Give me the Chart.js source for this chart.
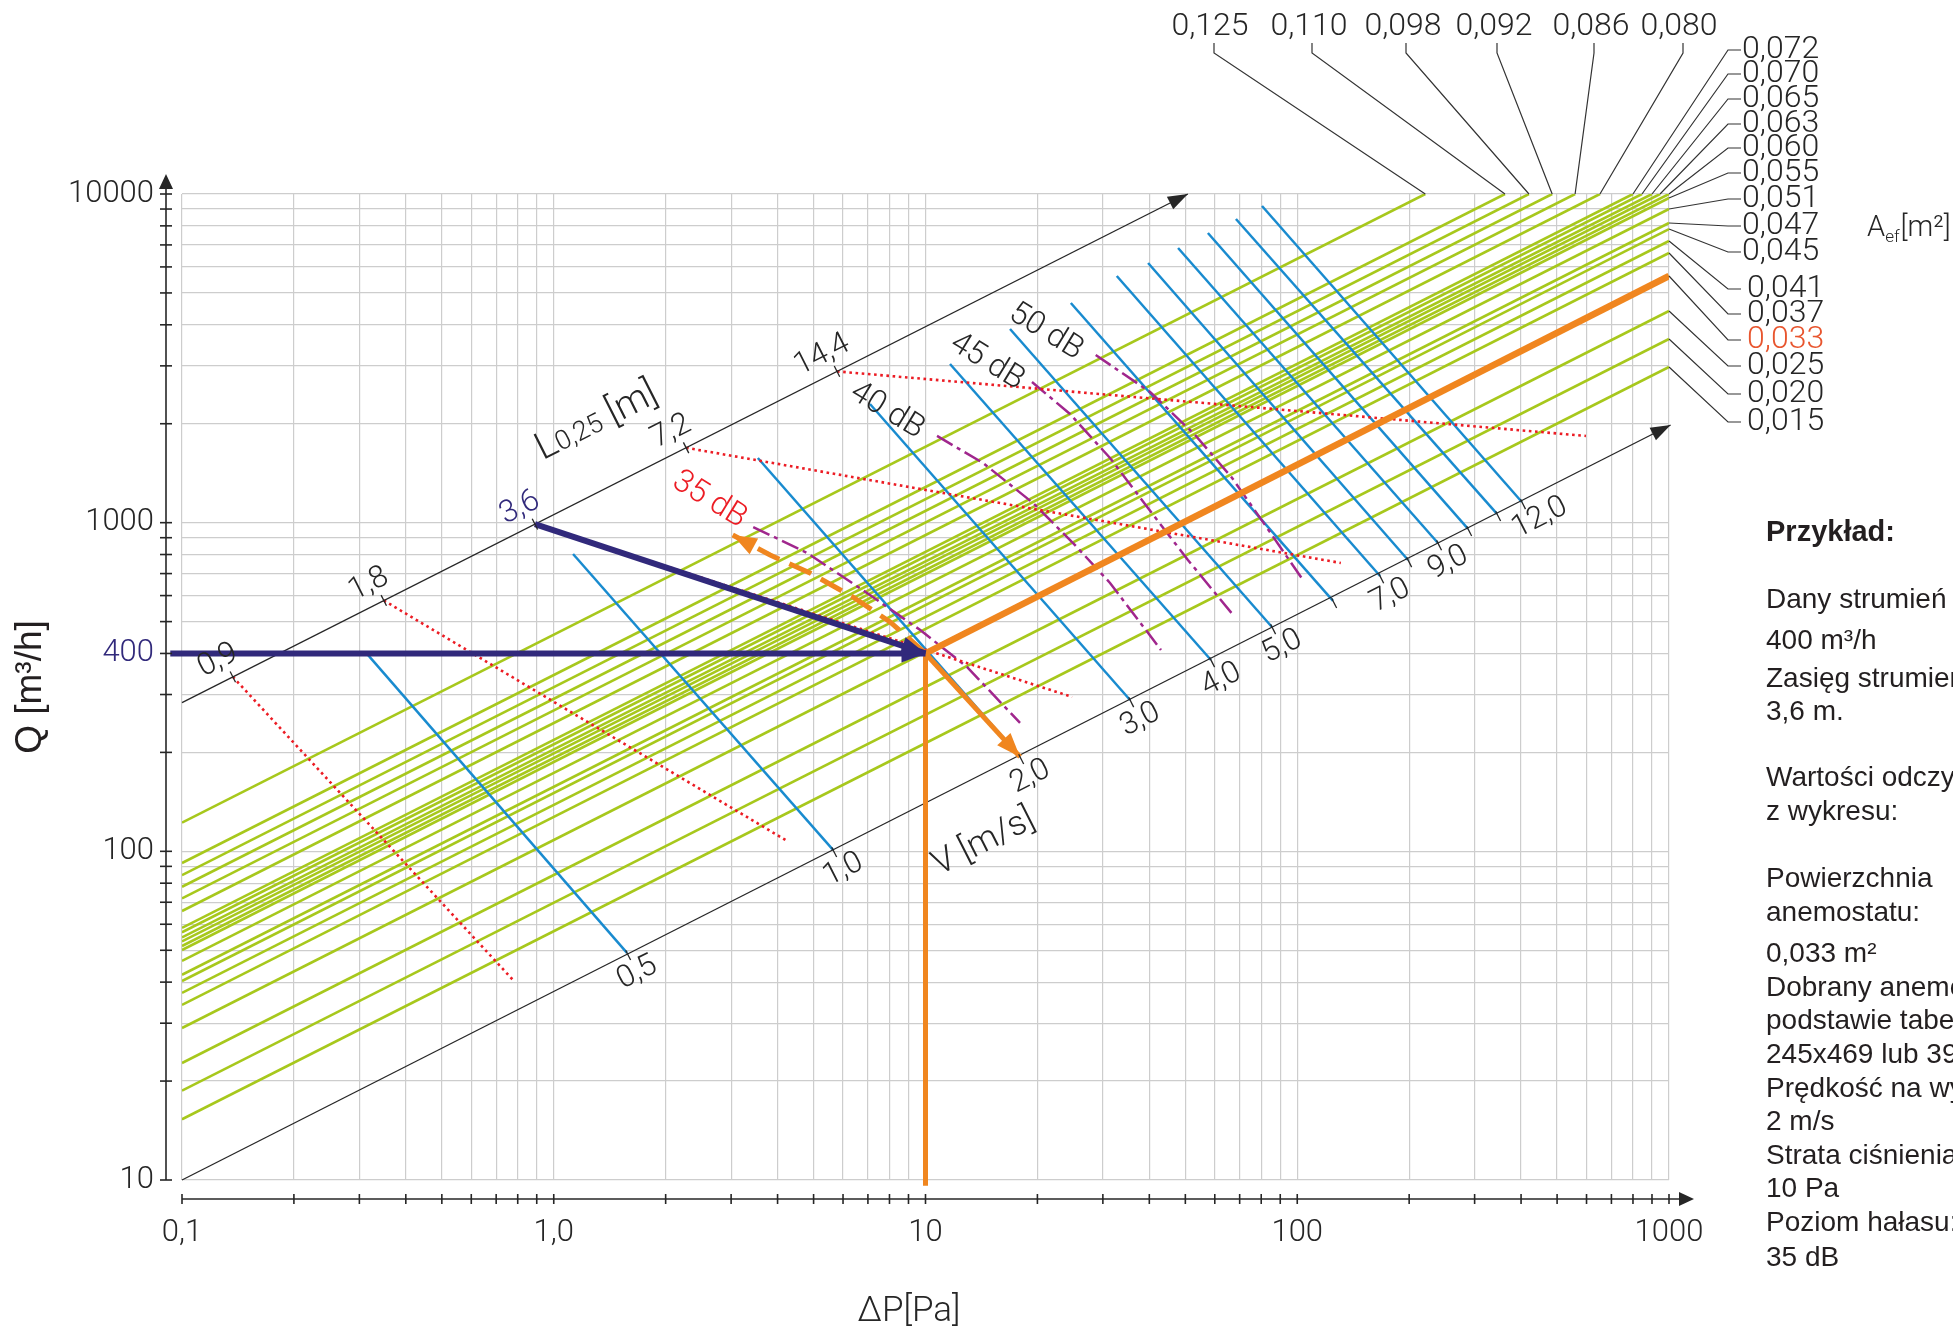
<!DOCTYPE html>
<html lang="pl">
<head>
<meta charset="utf-8">
<title>Nomogram doboru anemostatu</title>
<script src="https://cdn.jsdelivr.net/npm/chart.js@4.4.1/dist/chart.umd.min.js"></script>
<style>
  html, body { margin: 0; padding: 0; background: #ffffff; }
  #box { width: 1953px; height: 1331px; }
</style>
</head>
<body>
<div id="box"><canvas id="nomogram" width="1953" height="1331"></canvas></div>
<script>
// siatka logarytmiczna i opisy osi
const xGrid = [0.1,0.2,0.3,0.4,0.5,0.6,0.7,0.8,0.9,1,2,3,4,5,6,7,8,9,10,20,30,40,50,60,70,80,90,100,200,300,400,500,600,700,800,900,1000];
const yGrid = [10,20,30,40,50,60,70,80,90,100,200,300,400,500,600,700,800,900,1000,2000,3000,4000,5000,6000,7000,8000,9000,10000];
const xTickText = {0.1: '0,1', 1: '1,0', 10: '10', 100: '100', 1000: '1000'};
const yTickText = {10: '10', 100: '100', 400: '400', 1000: '1000', 10000: '10000'};

// linie A_ef: poczatek przy dP = 0,1 Pa, koniec na krawedzi wykresu
const aefNames = ['0,125','0,110','0,098','0,092','0,086','0,080','0,072','0,070','0,065','0,063','0,060','0,055','0,051','0,047','0,045','0,041','0,037','0,033','0,025','0,020','0,015'];
const aefQStart = [122.3, 92.1, 84.6, 78.0, 71.9, 65.8, 58.5, 56.7, 54.7, 53.2, 51.5, 50.1, 46.4, 42.1, 40.3, 37.1, 34.1, 29.0, 22.7, 18.7, 15.3];
const aefPEnd = [221, 362, 420, 485, 559, 652, 800, 846, 900, 946, 1000, 1000, 1000, 1000, 1000, 1000, 1000, 1000, 1000, 1000, 1000];
const aefQEnd = [10000, 10000, 10000, 10000, 10000, 10000, 10000, 10000, 10000, 10000, 10000, 9723, 9001, 8162, 7823, 7194, 6614, 5630, 4406, 3621, 2977];

// predkosc V [m/s]: linie od gory do osi V
const vNames = ['0,5','1,0','2,0','3,0','4,0','5,0','','7,0','','9,0','','','12,0'];
const vTopP = [0.315, 1.127, 3.54, 7.09, 11.64, 16.88, 24.6, 32.7, 39.7, 47.8, 57.5, 68.4, 80.4];
const vTopQ = [398, 803, 1573, 2297, 3039, 3884, 4661, 5630, 6168, 6849, 7608, 8392, 9193];
const vAxisP = [1.574, 5.64, 17.96, 35.5, 58.6, 85.5, 124.8, 167, 198.6, 239, 288, 344.6, 402];
const vAxisQ = [49.1, 101, 193.8, 288.8, 382, 481.6, 578, 688, 770, 867, 957, 1063, 1156];
const vAxisLineP = [0.1, 1010];
const vAxisLineQ = [10, 1982];

// zasieg L0,25 [m]
const lNames = ['0,9','1,8','3,6','7,2','14,4'];
const lAxisP = [0.137, 0.349, 0.890, 2.27, 5.78];
const lAxisQ = [339.6, 579.8, 990, 1690, 2886];
const lEndP = [0.777, 4.24, 24.8, 131, 598];
const lEndQ = [40.6, 107.6, 295, 754, 1836];
const lAxisLineP = [0.1, 50.8];
const lAxisLineQ = [283.5, 10000];

// poziom halasu
const dbNames = ['35 dB', '40 dB', '45 dB', '50 dB'];
const db35P = [3.44, 4.80, 6.96, 9.66, 12.93, 17.96];
const db35Q = [970, 809, 611, 472, 364, 245.8];
const db40P = [10.74, 14.28, 19.46, 24.94, 31.36, 43.0];
const db40Q = [1836, 1519, 1148, 867, 655.6, 410];
const db45P = [19.34, 24.47, 31.36, 39.67, 50.8, 67.2];
const db45Q = [2679, 2142, 1573, 1108, 770, 524];
const db50P = [28.7, 40.2, 53.1, 66.8, 81.9, 103.6];
const db50Q = [3237, 2498, 1849, 1368, 984, 669];

// przyklad
const exampleP = 10, exampleQ = 400;
const exampleDashP = [10, 8.03, 6.38, 4.89, 3.82, 3.03];
const exampleDashQ = [400, 499, 594, 703, 797, 917];

// tekst z prawej strony
const noteText = ['Przykład:', 'Dany strumień powietrza:', '400 m³/h', 'Zasięg strumienia:', '3,6 m.', 'Wartości odczytane', 'z wykresu:', 'Powierzchnia', 'anemostatu:', '0,033 m²', 'Dobrany anemostat na', 'podstawie tabeli:', '245x469 lub 395x320', 'Prędkość na wylocie:', '2 m/s', 'Strata ciśnienia:', '10 Pa', 'Poziom hałasu:', '35 dB'];

// uklad opisow (piksele)
const topLabelX = [1210, 1309, 1403, 1494, 1591, 1679];
const topLeaderX = [1214, 1312, 1406, 1497, 1594, 1683];
const sideLabelY = [50, 74, 99, 124, 148, 173, 199, 226, 252, 289, 314, 340, 366, 394, 422];
const noteY = [533, 600, 641, 679, 712, 778, 812, 879, 913, 954, 988, 1021, 1055, 1089, 1122, 1156, 1189, 1223, 1258];

const NAVY = '#31297b', ORANGE = '#f0861f', GREEN = '#a7c81c', BLUE = '#198bcf', RED = '#ec1c24', PURPLE = '#a0268d', INK = '#262626', GRID = '#cdcdcd';
const FAM = "Roboto, 'DejaVu Sans', sans-serif";
const SANS = "'Liberation Sans', Arial, sans-serif";

function line2(p0, q0, p1, q1) { return [{x: p0, y: q0}, {x: p1, y: q1}]; }
function poly(ps, qs) { return ps.map((p, i) => ({x: p, y: qs[i]})); }

const datasets = [];
function add(data, color, width, extra) {
  datasets.push(Object.assign({
    data: data, borderColor: color, backgroundColor: color, borderWidth: width,
    showLine: true, pointRadius: 0, pointHoverRadius: 0, fill: false, tension: 0
  }, extra || {}));
}

aefNames.forEach((n, i) => add(line2(0.1, aefQStart[i], aefPEnd[i], aefQEnd[i]), GREEN, 2.6, {order: 6}));
vTopP.forEach((p, i) => add(line2(p, vTopQ[i], vAxisP[i], vAxisQ[i]), BLUE, 2.5, {order: 5}));
lAxisP.forEach((p, i) => add(line2(p, lAxisQ[i], lEndP[i], lEndQ[i]), RED, 2.6, {order: 4, borderDash: [2.6, 3.6]}));
[[db35P, db35Q], [db40P, db40Q], [db45P, db45Q], [db50P, db50Q]].forEach(d =>
  add(poly(d[0], d[1]), PURPLE, 2.5, {order: 4, borderDash: [18, 5, 4, 5]}));
add(poly(vAxisLineP, vAxisLineQ), INK, 1.3, {order: 3, clip: false, arrow: [20, 7]});
add(poly(lAxisLineP, lAxisLineQ), INK, 1.3, {order: 3, clip: false, arrow: [20, 7]});

add(line2(exampleP, exampleQ, exampleP, 9.6), ORANGE, 5, {order: 1, clip: false});
add(line2(exampleP, exampleQ, aefPEnd[17], aefQEnd[17]), ORANGE, 6.5, {order: 1});
add(line2(exampleP, exampleQ, vAxisP[2], vAxisQ[2]), ORANGE, 5, {order: 1, arrow: [24, 9]});
add(poly(exampleDashP, exampleDashQ), ORANGE, 5, {order: 1, borderDash: [24, 11], arrow: [24, 9]});
add(line2(0.093, exampleQ, exampleP, exampleQ), NAVY, 6, {order: 0, clip: false, arrow: [24, 9]});
add(line2(lAxisP[2], lAxisQ[2], exampleP, exampleQ), NAVY, 6, {order: 0, arrow: [24, 9]});

function seg(ctx, x0, y0, x1, y1) {
  ctx.beginPath(); ctx.moveTo(x0, y0); ctx.lineTo(x1, y1); ctx.stroke();
}
function arrow(ctx, tx, ty, ux, uy, len, half) {
  const bx = tx - ux * len, by = ty - uy * len;
  ctx.beginPath();
  ctx.moveTo(tx, ty);
  ctx.lineTo(bx - uy * half, by + ux * half);
  ctx.lineTo(bx + uy * half, by - ux * half);
  ctx.closePath();
  ctx.fill();
}
function rtext(ctx, s, x, y, ang, dx, dy, font, color, align, base) {
  ctx.save();
  ctx.translate(x, y);
  ctx.rotate(ang);
  ctx.font = font; ctx.fillStyle = color;
  ctx.textAlign = align; ctx.textBaseline = base;
  ctx.fillText(s, dx, dy);
  ctx.restore();
}

const nomogramPlugin = {
  id: 'nomogram',
  afterDraw(chart) {
    const ctx = chart.ctx, a = chart.chartArea;
    const X = v => chart.scales.x.getPixelForValue(v);
    const Y = v => chart.scales.y.getPixelForValue(v);
    const numFont = '300 31px ' + FAM;
    ctx.save();

    // osie glowne
    ctx.strokeStyle = INK; ctx.fillStyle = INK; ctx.lineWidth = 1.6;
    const axY = a.bottom + 19, axX = a.left - 16;
    seg(ctx, a.left, axY, a.right + 12, axY);
    xGrid.forEach(v => seg(ctx, X(v), axY - 5, X(v), axY + 5));
    arrow(ctx, a.right + 25, axY, 1, 0, 15, 7);
    seg(ctx, axX, a.bottom, axX, a.top - 8);
    yGrid.forEach(v => seg(ctx, axX - 6, Y(v), axX + 6, Y(v)));
    arrow(ctx, axX, a.top - 20, 0, -1, 15, 7);
    rtext(ctx, '∆P[Pa]', 909, 1312, 0, 0, 0, '300 35px ' + FAM, INK, 'center', 'middle');

    // groty strzalek
    chart.data.datasets.forEach((ds, i) => {
      if (!ds.arrow) return;
      const el = chart.getDatasetMeta(i).data;
      const p = el[el.length - 2], q = el[el.length - 1];
      const d = Math.hypot(q.x - p.x, q.y - p.y);
      ctx.fillStyle = ds.borderColor;
      arrow(ctx, q.x, q.y, (q.x - p.x) / d, (q.y - p.y) / d, ds.arrow[0], ds.arrow[1]);
    });

    // os V
    const vAng = Math.atan2(Y(vAxisLineQ[1]) - Y(vAxisLineQ[0]), X(vAxisLineP[1]) - X(vAxisLineP[0]));
    let nx = -Math.sin(vAng), ny = Math.cos(vAng);
    ctx.strokeStyle = INK; ctx.lineWidth = 1.3;
    vAxisP.forEach((p, i) => {
      const x = X(p), y = Y(vAxisQ[i]);
      seg(ctx, x - 3 * nx, y - 3 * ny, x + 8 * nx, y + 8 * ny);
      if (vNames[i]) rtext(ctx, vNames[i], x, y, vAng, -20, 7, numFont, INK, 'left', 'top');
    });
    rtext(ctx, 'V [m/s]', X(vAxisP[2]) - 36, Y(vAxisQ[2]) + 86, vAng, 0, 0, '300 35px ' + FAM, INK, 'center', 'middle');

    // os L
    const lAng = Math.atan2(Y(lAxisLineQ[1]) - Y(lAxisLineQ[0]), X(lAxisLineP[1]) - X(lAxisLineP[0]));
    nx = -Math.sin(lAng); ny = Math.cos(lAng);
    lAxisP.forEach((p, i) => {
      const x = X(p), y = Y(lAxisQ[i]);
      seg(ctx, x - 6 * nx, y - 6 * ny, x + 6 * nx, y + 6 * ny);
      rtext(ctx, lNames[i], x, y, lAng, -6, -21, numFont, i === 2 ? NAVY : INK, 'center', 'middle');
    });
    // opis L0,25 [m]
    ctx.save();
    ctx.translate(X(lAxisP[2]) + 60, Y(lAxisQ[2]) - 106);
    ctx.rotate(lAng);
    ctx.fillStyle = INK; ctx.textBaseline = 'alphabetic'; ctx.textAlign = 'left';
    const parts = [['L', '300 38px ' + FAM], ['0,25', '300 27px ' + FAM], [' [m]', '300 38px ' + FAM]];
    let tw = 0;
    parts.forEach(pt => { ctx.font = pt[1]; tw += ctx.measureText(pt[0]).width; });
    let cx = -tw / 2;
    parts.forEach(pt => { ctx.font = pt[1]; ctx.fillText(pt[0], cx, 14); cx += ctx.measureText(pt[0]).width; });
    ctx.restore();

    // opisy dB
    const dbStart = [[db35P, db35Q], [db40P, db40Q], [db45P, db45Q], [db50P, db50Q]];
    const dbOff = [[-44, -27], [-50, -25], [-45, -20], [-50, -23]];
    dbNames.forEach((n, i) => {
      const x = X(dbStart[i][0][0]) + dbOff[i][0], y = Y(dbStart[i][1][0]) + dbOff[i][1];
      rtext(ctx, n, x, y, 0.55, 0, 0, '300 32px ' + FAM, i === 0 ? RED : INK, 'center', 'middle');
    });

    // opisy A_ef z odnosnikami
    ctx.strokeStyle = '#333333'; ctx.lineWidth = 1.2;
    aefNames.forEach((n, i) => {
      const ex = X(aefPEnd[i]), ey = Y(aefQEnd[i]);
      if (i < 6) {
        ctx.beginPath();
        ctx.moveTo(topLeaderX[i], 43); ctx.lineTo(topLeaderX[i], 53); ctx.lineTo(ex, ey);
        ctx.stroke();
        rtext(ctx, n, topLabelX[i], 27, 0, 0, 0, '300 32px ' + FAM, INK, 'center', 'middle');
      } else {
        const k = i - 6, ly = sideLabelY[k];
        ctx.beginPath();
        ctx.moveTo(ex, ey); ctx.lineTo(1728, ly); ctx.lineTo(1741, ly);
        ctx.stroke();
        rtext(ctx, n, k < 9 ? 1742 : 1747, ly, 0, 0, 0, '300 32px ' + FAM, n === '0,033' ? '#e8552e' : INK, 'left', 'middle');
      }
    });
    ctx.fillStyle = INK; ctx.textAlign = 'left'; ctx.textBaseline = 'alphabetic';
    ctx.font = '300 29px ' + FAM; ctx.fillText('A', 1867, 236);
    let ax = 1867 + ctx.measureText('A').width;
    ctx.font = '300 17px ' + FAM; ctx.fillText('ef', ax, 242);
    ax += ctx.measureText('ef').width + 1;
    ctx.font = '300 29px ' + FAM; ctx.fillText('[m²]', ax, 236);

    // przyklad
    noteText.forEach((s, i) => {
      ctx.font = (i === 0 ? 'bold 29px ' : '28px ') + SANS;
      ctx.fillStyle = '#231f20'; ctx.textBaseline = 'middle';
      ctx.fillText(s, 1766, noteY[i]);
    });
    ctx.restore();
  }
};

new Chart(document.getElementById('nomogram'), {
  type: 'scatter',
  data: {datasets: datasets},
  options: {
    responsive: false,
    animation: false,
    events: [],
    layout: {padding: {left: 0, top: 194, right: 284, bottom: 0}},
    plugins: {legend: {display: false}, tooltip: {enabled: false}},
    scales: {
      x: {
        type: 'logarithmic', position: 'bottom', min: 0.1, max: 1000,
        afterBuildTicks: s => { s.ticks = xGrid.map(v => ({value: v})); },
        afterFit: s => { s.height = 151; },
        grid: {color: GRID, lineWidth: 1.2, drawTicks: false},
        border: {display: false},
        ticks: {
          autoSkip: false, maxRotation: 0, minRotation: 0, padding: 35, color: INK,
          font: {family: FAM, size: 31, weight: '300'},
          callback: v => xTickText[v] || ''
        }
      },
      y: {
        type: 'logarithmic', position: 'left', min: 10, max: 10000,
        afterBuildTicks: s => { s.ticks = yGrid.map(v => ({value: v})); },
        afterFit: s => { s.width = 182; },
        grid: {color: GRID, lineWidth: 1.2, drawTicks: false},
        border: {display: false},
        ticks: {
          autoSkip: false, padding: 28,
          color: c => (c.tick && c.tick.value === 400) ? NAVY : INK,
          font: {family: FAM, size: 31, weight: '300'},
          callback: v => yTickText[v] || ''
        },
        title: {display: true, text: 'Q [m³/h]', color: '#231f20', font: {family: SANS, size: 37}, padding: {top: 9, bottom: 0}}
      }
    }
  },
  plugins: [nomogramPlugin]
});
</script>
</body>
</html>
